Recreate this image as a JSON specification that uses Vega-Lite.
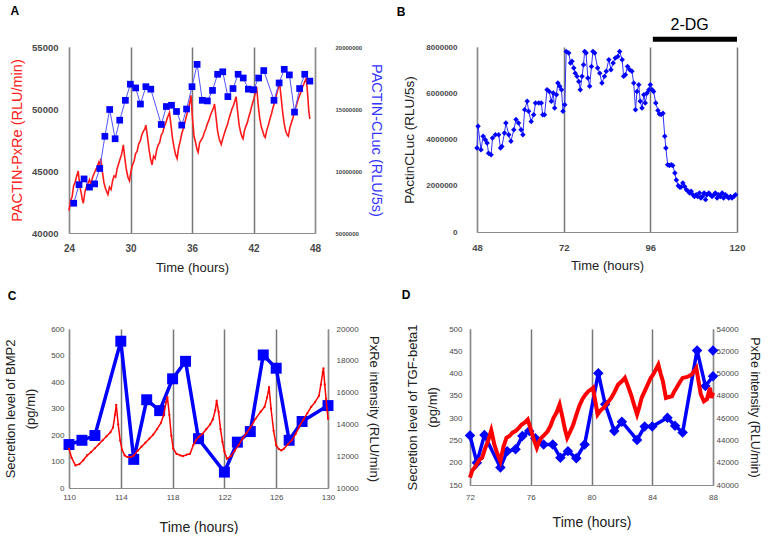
{
  "$schema": "https://vega.github.io/schema/vega-lite/v6.json",
  "padding": {"left": 4, "top": 5, "right": 0, "bottom": 0},
  "background": "white",
  "config": {
    "font": "Liberation Sans",
    "view": {"stroke": null},
    "axis": {"domainColor": "#8c8c8c", "domainWidth": 1.2, "ticks": false, "tickSize": 0, "grid": false, "labelColor": "#4a4a4a", "labelFontWeight": "bold", "titleColor": "#222222", "titleFontWeight": "normal", "labelFont": "Liberation Sans", "titleFont": "Liberation Sans", "gridColor": "#777777", "gridWidth": 1.5, "labelFlush": false, "labelOverlap": false},
    "title": {"fontSize": 12, "fontWeight": "bold", "anchor": "start", "frame": "bounds", "color": "#000000", "font": "Liberation Sans"}
  },
  "datasets": {
    "aRed": [
      {"h":24.0,"v":41800},{"h":24.15,"v":42600},{"h":24.3,"v":42900},{"h":24.45,"v":43800},{"h":24.6,"v":44100},{"h":24.75,"v":44600},{"h":24.9,"v":45000},
      {"h":25.05,"v":43800},{"h":25.2,"v":43200},{"h":25.3,"v":42700},{"h":25.4,"v":42400},
      {"h":25.55,"v":43300},{"h":25.7,"v":43700},{"h":25.85,"v":44000},{"h":26.0,"v":44300},{"h":26.15,"v":43900},{"h":26.3,"v":44500},{"h":26.45,"v":44800},{"h":26.6,"v":45100},{"h":26.75,"v":45300},{"h":26.9,"v":45700},{"h":27.0,"v":45500},{"h":27.1,"v":46000},
      {"h":27.25,"v":45000},{"h":27.4,"v":44100},{"h":27.55,"v":43600},{"h":27.7,"v":43300},{"h":27.8,"v":43100},
      {"h":27.95,"v":43700},{"h":28.1,"v":43500},{"h":28.25,"v":44200},{"h":28.4,"v":44600},{"h":28.55,"v":44500},{"h":28.7,"v":45200},{"h":28.85,"v":45600},{"h":29.0,"v":46000},{"h":29.15,"v":46400},{"h":29.3,"v":47100},
      {"h":29.45,"v":46000},{"h":29.6,"v":45100},{"h":29.75,"v":44500},{"h":29.9,"v":44200},
      {"h":30.05,"v":45000},{"h":30.2,"v":45500},{"h":30.35,"v":45800},{"h":30.5,"v":46400},{"h":30.65,"v":46600},{"h":30.8,"v":47200},{"h":30.95,"v":47400},{"h":31.1,"v":47900},{"h":31.25,"v":48200},{"h":31.4,"v":48400},{"h":31.5,"v":48700},
      {"h":31.65,"v":47800},{"h":31.8,"v":46800},{"h":31.95,"v":46000},{"h":32.1,"v":45500},
      {"h":32.25,"v":46200},{"h":32.4,"v":46000},{"h":32.55,"v":46700},{"h":32.7,"v":47100},{"h":32.85,"v":47300},{"h":33.0,"v":47900},{"h":33.15,"v":48100},{"h":33.3,"v":48600},{"h":33.45,"v":48900},{"h":33.6,"v":49300},{"h":33.8,"v":49700},
      {"h":33.95,"v":48700},{"h":34.1,"v":47600},{"h":34.25,"v":46900},{"h":34.4,"v":46300},{"h":34.55,"v":46000},
      {"h":34.7,"v":46900},{"h":34.85,"v":47400},{"h":35.0,"v":48000},{"h":35.15,"v":48400},{"h":35.3,"v":48900},{"h":35.45,"v":49400},{"h":35.6,"v":49900},{"h":35.75,"v":50400},{"h":35.9,"v":51100},
      {"h":36.05,"v":49200},{"h":36.2,"v":47800},{"h":36.35,"v":47300},{"h":36.5,"v":46700},{"h":36.6,"v":46500},
      {"h":36.75,"v":47300},{"h":36.9,"v":47500},{"h":37.05,"v":47700},{"h":37.2,"v":48100},{"h":37.35,"v":48400},{"h":37.5,"v":48800},{"h":37.65,"v":49100},{"h":37.8,"v":49500},{"h":37.95,"v":49800},{"h":38.1,"v":50100},{"h":38.2,"v":50400},
      {"h":38.35,"v":49300},{"h":38.5,"v":48200},{"h":38.65,"v":47600},{"h":38.85,"v":47150},
      {"h":39.0,"v":47600},{"h":39.15,"v":48000},{"h":39.3,"v":48400},{"h":39.45,"v":48700},{"h":39.6,"v":49200},{"h":39.75,"v":49600},{"h":39.9,"v":50000},{"h":40.05,"v":50300},{"h":40.2,"v":50700},{"h":40.3,"v":51000},
      {"h":40.45,"v":49800},{"h":40.6,"v":48700},{"h":40.75,"v":48100},{"h":40.9,"v":47700},{"h":40.98,"v":47600},
      {"h":41.1,"v":48200},{"h":41.25,"v":48600},{"h":41.4,"v":48900},{"h":41.55,"v":49400},{"h":41.7,"v":49800},{"h":41.85,"v":50300},{"h":42.0,"v":50700},{"h":42.15,"v":51200},{"h":42.3,"v":51800},
      {"h":42.45,"v":50400},{"h":42.6,"v":49300},{"h":42.75,"v":48600},{"h":42.9,"v":48200},{"h":43.05,"v":47800},{"h":43.15,"v":47700},
      {"h":43.3,"v":48300},{"h":43.45,"v":48700},{"h":43.6,"v":49200},{"h":43.75,"v":49600},{"h":43.9,"v":50100},{"h":44.05,"v":50500},{"h":44.2,"v":51000},{"h":44.35,"v":51500},{"h":44.55,"v":52100},
      {"h":44.7,"v":50900},{"h":44.85,"v":49700},{"h":45.0,"v":48800},{"h":45.15,"v":48200},{"h":45.3,"v":47900},{"h":45.4,"v":47800},
      {"h":45.55,"v":48500},{"h":45.7,"v":48900},{"h":45.85,"v":49300},{"h":46.0,"v":49800},{"h":46.15,"v":50200},{"h":46.3,"v":50600},{"h":46.45,"v":51000},{"h":46.6,"v":51300},{"h":46.75,"v":51700},{"h":46.9,"v":52000},{"h":47.05,"v":52300},{"h":47.15,"v":52500},
      {"h":47.3,"v":51000},{"h":47.4,"v":49800},{"h":47.5,"v":49200}
    ],
    "aBlue": [
      {"h":24.46,"v":7400000},{"h":24.98,"v":8900000},{"h":25.47,"v":9360000},{"h":26.0,"v":8700000},{"h":26.5,"v":8960000},{"h":27.0,"v":10200000},{"h":27.5,"v":12800000},{"h":27.97,"v":14960000},{"h":28.5,"v":12600000},{"h":28.95,"v":14100000},{"h":29.5,"v":15700000},{"h":29.99,"v":17000000},{"h":30.5,"v":16700000},{"h":30.97,"v":15400000},{"h":31.5,"v":16800000},{"h":31.98,"v":16600000},{"h":33.0,"v":13750000},{"h":33.5,"v":15200000},{"h":34.0,"v":15300000},{"h":34.49,"v":14800000},{"h":35.0,"v":13700000},{"h":35.47,"v":15000000},{"h":36.0,"v":16800000},{"h":36.5,"v":18600000},{"h":37.0,"v":15700000},{"h":37.5,"v":15650000},{"h":38.0,"v":16500000},{"h":38.5,"v":17800000},{"h":39.0,"v":18000000},{"h":39.5,"v":16000000},{"h":40.0,"v":16650000},{"h":40.5,"v":17800000},{"h":41.0,"v":17500000},{"h":41.5,"v":16600000},{"h":42.0,"v":16550000},{"h":42.5,"v":17500000},{"h":43.0,"v":18100000},{"h":44.0,"v":15700000},{"h":44.5,"v":17100000},{"h":45.0,"v":18200000},{"h":45.5,"v":17750000},{"h":46.0,"v":14750000},{"h":46.5,"v":16650000},{"h":47.0,"v":17800000},{"h":47.5,"v":17250000}
    ],
    "bBlue": [
      {"h":48.0,"v":3630000},{"h":48.3,"v":4570000},{"h":49.1,"v":3560000},{"h":49.7,"v":4140000},{"h":50.3,"v":3990000},{"h":50.8,"v":3850000},{"h":51.2,"v":3410000},{"h":51.9,"v":3340000},{"h":52.3,"v":4060000},{"h":53.1,"v":4210000},{"h":54.0,"v":4210000},{"h":54.5,"v":3630000},{"h":54.9,"v":3700000},{"h":55.6,"v":4280000},{"h":56.0,"v":4710000},{"h":56.8,"v":4210000},{"h":57.4,"v":3920000},{"h":58.2,"v":4420000},{"h":58.8,"v":4860000},{"h":59.5,"v":4710000},{"h":60.2,"v":4420000},{"h":60.7,"v":4210000},{"h":61.2,"v":5290000},{"h":61.9,"v":5650000},{"h":62.3,"v":5220000},{"h":63.0,"v":4780000},{"h":63.7,"v":5070000},{"h":64.2,"v":5580000},{"h":65.1,"v":5580000},{"h":65.8,"v":5580000},{"h":66.2,"v":5070000},{"h":66.7,"v":5070000},{"h":67.4,"v":6150000},{"h":68.0,"v":6080000},{"h":68.6,"v":5650000},{"h":69.1,"v":6010000},{"h":69.5,"v":5360000},{"h":70.0,"v":5940000},{"h":70.4,"v":6440000},{"h":70.9,"v":6300000},{"h":71.4,"v":6150000},{"h":71.8,"v":5220000},{"h":72.3,"v":5500000},
      {"h":72.7,"v":7810000},{"h":73.4,"v":7740000},{"h":73.9,"v":7310000},{"h":74.3,"v":7380000},{"h":74.8,"v":7090000},{"h":75.2,"v":6870000},{"h":75.7,"v":6730000},{"h":76.2,"v":6510000},{"h":76.6,"v":6150000},{"h":77.1,"v":6730000},{"h":77.5,"v":7230000},{"h":77.8,"v":7810000},{"h":78.2,"v":7740000},{"h":78.7,"v":6660000},{"h":79.2,"v":6300000},{"h":79.7,"v":7160000},{"h":80.1,"v":7810000},{"h":80.6,"v":7740000},{"h":81.4,"v":7090000},{"h":82.0,"v":6870000},{"h":82.6,"v":6440000},{"h":83.3,"v":6730000},{"h":83.8,"v":6950000},{"h":84.5,"v":7450000},{"h":85.1,"v":7020000},{"h":85.7,"v":7310000},{"h":86.3,"v":7520000},{"h":87.0,"v":7590000},{"h":87.5,"v":7810000},{"h":88.2,"v":7450000},{"h":88.6,"v":6730000},{"h":89.1,"v":6800000},{"h":89.7,"v":7160000},{"h":90.3,"v":7020000},{"h":90.9,"v":6950000},{"h":91.4,"v":6440000},{"h":91.9,"v":5290000},{"h":92.3,"v":6080000},{"h":92.8,"v":6370000},{"h":93.2,"v":5650000},{"h":93.7,"v":5360000},{"h":94.2,"v":5940000},{"h":94.6,"v":5580000},{"h":95.1,"v":6010000},{"h":95.6,"v":6150000},{"h":96.0,"v":6370000},{"h":96.5,"v":6150000},{"h":96.9,"v":6080000},{"h":97.5,"v":5580000},
      {"h":98.1,"v":5250000},{"h":98.5,"v":5100000},{"h":99.0,"v":5080000},{"h":99.5,"v":5140000},{"h":100.0,"v":4140000},{"h":100.3,"v":3630000},{"h":100.8,"v":2910000},{"h":101.3,"v":2880000},{"h":101.8,"v":2910000},{"h":102.2,"v":2880000},{"h":102.8,"v":2550000},{"h":103.2,"v":2250000},{"h":103.75,"v":2000000},{"h":104.2,"v":1930000},{"h":104.5,"v":1950000},{"h":105.0,"v":2120000},{"h":105.5,"v":1970000},{"h":106.0,"v":1830000},{"h":106.5,"v":1760000},{"h":106.9,"v":1690000},{"h":107.3,"v":1760000},{"h":107.8,"v":1610000},{"h":108.2,"v":1540000},{"h":108.7,"v":1610000},{"h":109.1,"v":1540000},{"h":109.6,"v":1690000},{"h":110.0,"v":1470000},{"h":110.4,"v":1540000},{"h":110.9,"v":1690000},{"h":111.3,"v":1400000},{"h":111.7,"v":1610000},{"h":112.2,"v":1690000},{"h":112.6,"v":1610000},{"h":113.1,"v":1540000},{"h":113.6,"v":1610000},{"h":114.0,"v":1690000},{"h":114.5,"v":1470000},{"h":114.9,"v":1610000},{"h":115.4,"v":1540000},{"h":115.9,"v":1690000},{"h":116.3,"v":1470000},{"h":116.8,"v":1610000},{"h":117.3,"v":1540000},{"h":117.7,"v":1470000},{"h":118.2,"v":1540000},{"h":118.6,"v":1470000},{"h":119.1,"v":1540000},{"h":119.6,"v":1610000}
    ],
    "bBar": [{"h":96.7,"h2":120,"v":8330000}],
    "bText": [{"h":106.9,"v":8940000,"label":"2-DG"}],
    "cBlue": [
      {"h":110,"v":164},{"h":111,"v":180},{"h":112,"v":198},{"h":114,"v":554},{"h":115,"v":108},{"h":116,"v":333},{"h":117,"v":292},{"h":118,"v":412},{"h":119,"v":478},{"h":120,"v":186},{"h":122,"v":60},{"h":123,"v":173},{"h":124,"v":213},{"h":125,"v":502},{"h":126,"v":452},{"h":127,"v":180},{"h":128,"v":251},{"h":130,"v":311}
    ],
    "cRed": [
      {"h":110.0,"v":12470},{"h":110.2,"v":11900},{"h":110.5,"v":11420},{"h":110.8,"v":11500},{"h":111.1,"v":11750},{"h":111.4,"v":12050},{"h":111.7,"v":12250},{"h":112.0,"v":12500},{"h":112.3,"v":12750},{"h":112.6,"v":13000},{"h":112.9,"v":13250},{"h":113.2,"v":13500},{"h":113.4,"v":13800},{"h":113.55,"v":14600},{"h":113.65,"v":15230},{"h":113.8,"v":14000},{"h":113.95,"v":13000},{"h":114.1,"v":12400},{"h":114.3,"v":12050},{"h":114.5,"v":11950},{"h":114.8,"v":11950},{"h":115.0,"v":12050},{"h":115.3,"v":12350},{"h":115.6,"v":12600},{"h":115.9,"v":12850},{"h":116.2,"v":13100},{"h":116.5,"v":13350},{"h":116.8,"v":13700},{"h":117.1,"v":14100},{"h":117.3,"v":14560},{"h":117.5,"v":15400},{"h":117.6,"v":15710},{"h":117.75,"v":14600},{"h":117.9,"v":13300},{"h":118.05,"v":12470},{"h":118.3,"v":12150},{"h":118.6,"v":12050},{"h":118.8,"v":12000},{"h":119.1,"v":12100},{"h":119.35,"v":12150},{"h":119.6,"v":12700},{"h":119.8,"v":13000},{"h":120.0,"v":13200},{"h":120.3,"v":13400},{"h":120.6,"v":13700},{"h":120.9,"v":14000},{"h":121.1,"v":14300},{"h":121.3,"v":14900},{"h":121.4,"v":15500},{"h":121.55,"v":14800},{"h":121.7,"v":13700},{"h":121.85,"v":12900},{"h":122.0,"v":12300},{"h":122.2,"v":11840},{"h":122.5,"v":12000},{"h":122.8,"v":12350},{"h":123.1,"v":12700},{"h":123.4,"v":13100},{"h":123.7,"v":13450},{"h":124.0,"v":13800},{"h":124.4,"v":14350},{"h":124.8,"v":14800},{"h":125.1,"v":15100},{"h":125.3,"v":15700},{"h":125.45,"v":16340},{"h":125.6,"v":15000},{"h":125.8,"v":13600},{"h":126.0,"v":12680},{"h":126.2,"v":12450},{"h":126.4,"v":12360},{"h":126.6,"v":12470},{"h":126.9,"v":12750},{"h":127.2,"v":13000},{"h":127.5,"v":13400},{"h":127.8,"v":13900},{"h":128.1,"v":14300},{"h":128.4,"v":14700},{"h":128.7,"v":15100},{"h":129.0,"v":15400},{"h":129.3,"v":15800},{"h":129.45,"v":16500},{"h":129.6,"v":17300},{"h":129.65,"v":17530},{"h":129.75,"v":16500},{"h":129.85,"v":15600},{"h":130.0,"v":14350}
    ],
    "dBlue": [
      {"h":72.0,"v":261,"s":"main"},{"h":72.45,"v":200,"s":"main"},{"h":72.95,"v":262,"s":"main"},{"h":74.0,"v":189,"s":"main"},{"h":74.45,"v":226,"s":"main"},{"h":75.0,"v":230,"s":"main"},{"h":75.45,"v":260,"s":"main"},{"h":75.9,"v":271,"s":"main"},{"h":76.3,"v":255,"s":"main"},{"h":76.85,"v":241,"s":"main"},{"h":77.45,"v":241,"s":"main"},{"h":77.95,"v":211,"s":"main"},{"h":78.45,"v":226,"s":"main"},{"h":79.0,"v":210,"s":"main"},{"h":79.55,"v":241,"s":"main"},{"h":80.45,"v":401,"s":"main"},{"h":80.9,"v":331,"s":"main"},{"h":81.5,"v":271,"s":"main"},{"h":82.0,"v":292,"s":"main"},{"h":83.0,"v":251,"s":"main"},{"h":83.5,"v":281,"s":"main"},{"h":84.0,"v":281,"s":"main"},{"h":85.0,"v":301,"s":"main"},{"h":85.5,"v":283,"s":"main"},{"h":86.0,"v":268,"s":"main"},{"h":86.95,"v":452,"s":"main"},{"h":87.5,"v":372,"s":"main"},{"h":88.0,"v":394,"s":"main"},{"h":88.0,"v":452,"s":"extra"}
    ],
    "dRed": [
      {"h":72.0,"v":40660},{"h":72.15,"v":41300},{"h":72.3,"v":41550},{"h":72.5,"v":42000},{"h":72.65,"v":42300},{"h":72.8,"v":42450},{"h":73.0,"v":43300},{"h":73.2,"v":44000},{"h":73.4,"v":44900},{"h":73.5,"v":44300},{"h":73.6,"v":43640},{"h":73.8,"v":42800},{"h":74.0,"v":42150},{"h":74.2,"v":43400},{"h":74.4,"v":44240},{"h":74.6,"v":44400},{"h":74.8,"v":44700},{"h":75.0,"v":44840},{"h":75.2,"v":45100},{"h":75.4,"v":45430},{"h":75.6,"v":45600},{"h":75.8,"v":45880},{"h":76.0,"v":45000},{"h":76.2,"v":44100},{"h":76.4,"v":43340},{"h":76.55,"v":43900},{"h":76.7,"v":44240},{"h":76.9,"v":44500},{"h":77.1,"v":44800},{"h":77.3,"v":45300},{"h":77.5,"v":46030},{"h":77.7,"v":46500},{"h":77.9,"v":47220},{"h":78.1,"v":46000},{"h":78.25,"v":45000},{"h":78.4,"v":44240},{"h":78.6,"v":44800},{"h":78.8,"v":45430},{"h":79.0,"v":46300},{"h":79.2,"v":47100},{"h":79.4,"v":47700},{"h":79.6,"v":48100},{"h":79.8,"v":48420},{"h":80.0,"v":48600},{"h":80.1,"v":48720},{"h":80.25,"v":47500},{"h":80.4,"v":46330},{"h":80.6,"v":46700},{"h":80.8,"v":46930},{"h":81.0,"v":47300},{"h":81.3,"v":47820},{"h":81.5,"v":48300},{"h":81.75,"v":49010},{"h":82.0,"v":49300},{"h":82.2,"v":49610},{"h":82.4,"v":48900},{"h":82.6,"v":48120},{"h":82.8,"v":47200},{"h":83.0,"v":46330},{"h":83.15,"v":47000},{"h":83.3,"v":47820},{"h":83.5,"v":48400},{"h":83.7,"v":49010},{"h":83.9,"v":49600},{"h":84.1,"v":50000},{"h":84.4,"v":50800},{"h":84.55,"v":50000},{"h":84.7,"v":49310},{"h":84.9,"v":47820},{"h":85.1,"v":47900},{"h":85.3,"v":47970},{"h":85.45,"v":48400},{"h":85.6,"v":48720},{"h":85.8,"v":49200},{"h":86.0,"v":49610},{"h":86.3,"v":49700},{"h":86.6,"v":49910},{"h":86.9,"v":50510},{"h":87.05,"v":49300},{"h":87.2,"v":48120},{"h":87.4,"v":47520},{"h":87.6,"v":47700},{"h":87.8,"v":48720},{"h":87.9,"v":47820},{"h":88.0,"v":48300}
    ]
  },
  "vconcat": [
    {
      "bounds": "flush",
      "spacing": 162,
      "hconcat": [
        {
          "title": {"text": "A", "offset": 24, "dx": 1},
          "width": 246, "height": 186,
          "layer": [
            {
              "data": {"name": "aRed"},
              "mark": {"type": "line", "color": "#ff1a1a", "strokeWidth": 1.6},
              "encoding": {
                "x": {"field": "h", "type": "quantitative", "scale": {"domain": [24, 48], "nice": false},
                      "axis": {"values": [24, 30, 36, 42, 48], "grid": true, "labelFontSize": 10, "labelPadding": 10, "title": "Time (hours)", "titleFontSize": 13, "titlePadding": 8}},
                "y": {"field": "v", "type": "quantitative", "scale": {"domain": [40000, 55000], "nice": false, "zero": false},
                      "axis": {"orient": "left", "values": [40000, 45000, 50000, 55000], "format": "d", "labelFontSize": 9.5, "labelPadding": 11, "title": "PACTIN-PxRe (RLU/min)", "titleColor": "#ff2020", "titleFontSize": 14.5, "titlePadding": 7}}
              }
            },
            {
              "data": {"name": "aBlue"},
              "mark": {"type": "line", "color": "#5555ff", "strokeWidth": 1, "point": {"shape": "square", "size": 45, "filled": true, "color": "#0000ff", "opacity": 1}},
              "encoding": {
                "x": {"field": "h", "type": "quantitative"},
                "y": {"field": "v", "type": "quantitative", "scale": {"domain": [5000000, 20000000], "nice": false, "zero": false},
                      "axis": {"orient": "right", "values": [5000000, 10000000, 15000000, 20000000], "format": "d", "labelFontSize": 6, "labelPadding": 20, "title": "PACTIN-CLuc (RLU/5s)", "titleColor": "#3333ff", "titleFontSize": 14.5, "titlePadding": 7}}
              }
            }
          ],
          "resolve": {"scale": {"y": "independent"}}
        },
        {
          "title": {"text": "B", "offset": -2, "dx": -6},
          "width": 260, "height": 185,
          "layer": [
            {
              "data": {"name": "bBlue"},
              "mark": {"type": "line", "color": "#3030ff", "strokeWidth": 1, "point": {"shape": "diamond", "size": 30, "filled": true, "color": "#0000ff", "opacity": 1}},
              "encoding": {
                "x": {"field": "h", "type": "quantitative", "scale": {"domain": [48, 120], "nice": false},
                      "axis": {"values": [48, 72, 96, 120], "grid": true, "labelFontSize": 9.5, "labelPadding": 10, "title": "Time (hours)", "titleFontSize": 13, "titlePadding": 8}},
                "y": {"field": "v", "type": "quantitative", "scale": {"domain": [0, 8000000], "nice": false},
                      "axis": {"values": [0, 2000000, 4000000, 6000000, 8000000], "format": "d", "labelFontSize": 8, "labelPadding": 20, "title": "PActinCLuc (RLU/5s)", "titleFontSize": 13.5, "titlePadding": 9}}
              }
            },
            {
              "data": {"name": "bBar"},
              "mark": {"type": "rule", "color": "#000000", "strokeWidth": 5},
              "encoding": {"x": {"field": "h", "type": "quantitative"}, "x2": {"field": "h2"}, "y": {"field": "v", "type": "quantitative"}}
            },
            {
              "data": {"name": "bText"},
              "mark": {"type": "text", "fontSize": 16, "font": "Liberation Sans", "color": "#000000", "baseline": "middle", "align": "center"},
              "encoding": {"x": {"field": "h", "type": "quantitative"}, "y": {"field": "v", "type": "quantitative"}, "text": {"field": "label"}}
            }
          ]
        }
      ]
    },
    {
      "bounds": "flush",
      "spacing": 142,
      "hconcat": [
        {
          "title": {"text": "C", "offset": 22, "dx": 3},
          "width": 259, "height": 159,
          "layer": [
            {
              "data": {"name": "cBlue"},
              "mark": {"type": "line", "color": "#0000ff", "strokeWidth": 3.5, "point": {"shape": "square", "size": 120, "filled": true, "color": "#0000ff", "opacity": 1}},
              "encoding": {
                "x": {"field": "h", "type": "quantitative", "scale": {"domain": [110, 130], "nice": false},
                      "axis": {"values": [110, 114, 118, 122, 126, 130], "grid": true, "labelFontSize": 8, "labelFontWeight": "normal", "labelPadding": 5, "title": "Time (hours)", "titleFontSize": 14, "titlePadding": 19}},
                "y": {"field": "v", "type": "quantitative", "scale": {"domain": [0, 600], "nice": false},
                      "axis": {"orient": "left", "values": [0, 100, 200, 300, 400, 500, 600], "labelFontSize": 8, "labelFontWeight": "normal", "labelPadding": 5, "title": ["Secretion level of BMP2", "(pg/ml)"], "titleFontSize": 13, "titleLineHeight": 20, "titlePadding": 13}}
              }
            },
            {
              "data": {"name": "cRed"},
              "mark": {"type": "line", "color": "#ff0000", "strokeWidth": 1.5, "point": {"filled": true, "size": 5, "color": "#ff0000"}},
              "encoding": {
                "x": {"field": "h", "type": "quantitative"},
                "y": {"field": "v", "type": "quantitative", "scale": {"domain": [10000, 20000], "nice": false, "zero": false},
                      "axis": {"orient": "right", "values": [10000, 12000, 14000, 16000, 18000, 20000], "format": "d", "labelFontSize": 8, "labelFontWeight": "normal", "labelPadding": 8, "title": "PxRe intensity (RLU/min)", "titleFontSize": 13, "titlePadding": 8}}
              }
            }
          ],
          "resolve": {"scale": {"y": "independent"}}
        },
        {
          "title": {"text": "D", "offset": 22, "dx": -5},
          "width": 243, "height": 156,
          "layer": [
            {
              "data": {"name": "dBlue"},
              "mark": {"type": "line", "color": "#0000ff", "strokeWidth": 3.5, "point": {"shape": "diamond", "size": 110, "filled": true, "color": "#0000ff", "opacity": 1}},
              "encoding": {
                "x": {"field": "h", "type": "quantitative", "scale": {"domain": [72, 88], "nice": false},
                      "axis": {"values": [72, 76, 80, 84, 88], "grid": true, "labelFontSize": 8, "labelFontWeight": "normal", "labelPadding": 8, "title": "Time (hours)", "titleFontSize": 14, "titlePadding": 14}},
                "y": {"field": "v", "type": "quantitative", "scale": {"domain": [150, 500], "nice": false, "zero": false},
                      "axis": {"orient": "left", "values": [150, 200, 250, 300, 350, 400, 450, 500], "labelFontSize": 8, "labelFontWeight": "normal", "labelPadding": 8, "title": ["Secretion level of TGF-beta1", "(pg/ml)"], "titleFontSize": 13, "titleLineHeight": 20, "titlePadding": 9}},
                "detail": {"field": "s", "type": "nominal"}
              }
            },
            {
              "data": {"name": "dRed"},
              "mark": {"type": "line", "color": "#ff0000", "strokeWidth": 4},
              "encoding": {
                "x": {"field": "h", "type": "quantitative"},
                "y": {"field": "v", "type": "quantitative", "scale": {"domain": [40000, 54000], "nice": false, "zero": false},
                      "axis": {"orient": "right", "values": [40000, 42000, 44000, 46000, 48000, 50000, 52000, 54000], "format": "d", "labelFontSize": 8, "labelFontWeight": "normal", "labelPadding": 3, "title": "PxRe intensity (RLU/min)", "titleFontSize": 12.5, "titlePadding": 9}}
              }
            }
          ],
          "resolve": {"scale": {"y": "independent"}}
        }
      ]
    }
  ],
  "spacing": 14
}
